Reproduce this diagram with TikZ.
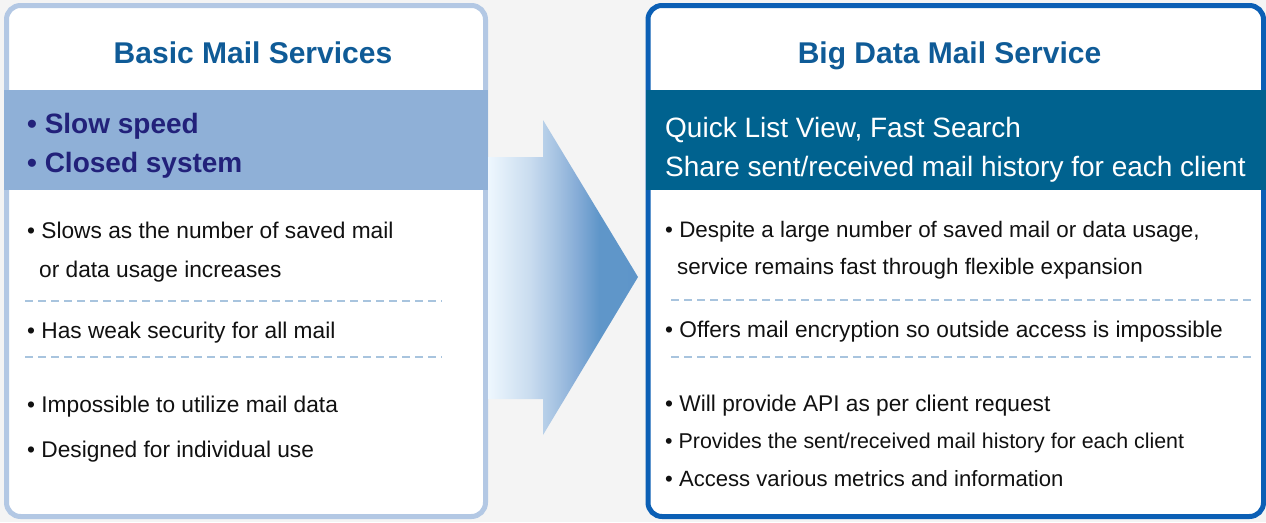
\documentclass[tikz,border=0pt]{standalone}
\usepackage{fontspec}
\setmainfont{Liberation Sans}

\definecolor{pagebg}{HTML}{F4F4F4}
\definecolor{leftrim}{HTML}{B3C8E4}
\definecolor{leftband}{HTML}{8FB0D7}
\definecolor{navytext}{HTML}{22217A}
\definecolor{titleblue}{HTML}{0F5B97}
\definecolor{rightrim}{HTML}{0B5FB5}
\definecolor{rightband}{HTML}{00628F}
\definecolor{dashblue}{HTML}{A8C4DE}
\definecolor{bodytext}{HTML}{111111}
\definecolor{ag0}{HTML}{EEF7FE}
\definecolor{ag1}{HTML}{C9DCEF}
\definecolor{ag2}{HTML}{A9C5E3}
\definecolor{ag3}{HTML}{84ABD6}
\definecolor{ag4}{HTML}{5F96C9}
\definecolor{ag5}{HTML}{5D94C8}

% horizontal fade of the big transition arrow
\pgfdeclarehorizontalshading{arrowgrad}{100bp}{%
  color(0bp)=(ag0); color(25bp)=(ag0); color(39bp)=(ag1); color(47bp)=(ag2);
  color(55bp)=(ag3); color(62bp)=(ag4); color(100bp)=(ag5)}

\tikzset{
  panel/.style={line width=5pt, rounded corners=14pt, fill=white},
  sep/.style={draw=dashblue, line width=1.2pt, dash pattern=on 8pt off 5pt},
  heading/.style={anchor=base, inner sep=0pt, text=titleblue,
    font=\fontsize{30}{36}\selectfont\bfseries},
  keyline/.style={anchor=base west, inner sep=0pt, text=navytext,
    font=\fontsize{28}{34}\selectfont\bfseries},
  bandline/.style={anchor=base west, inner sep=0pt, text=white,
    font=\fontsize{28}{34}\selectfont},
  item/.style={anchor=base west, inner sep=0pt, text=bodytext,
    font=\fontsize{22.7}{27}\selectfont},
  itemsize/.style={font=\fontsize{#1}{27}\selectfont},
}

\begin{document}
\begin{tikzpicture}[x=1pt, y=-1pt]
  \useasboundingbox (0,0) rectangle (1266,522);
  \fill[pagebg] (0,0) rectangle (1266,522);

  % ---- left panel: basic mail services ----
  \draw[panel, draw=leftrim] (6.5,5.5) rectangle (485.5,516.5);
  \fill[leftband] (4,90) rectangle (488,190);
  \node[heading] (ltitle) at (253,63) {Basic Mail Services};
  \node[keyline] (lk1) at (27,133) {• Slow speed};
  \node[keyline] (lk2) at (27,172) {• Closed system};
  \node[item] (l1a) at (27,238) {• Slows as the number of saved mail};
  \node[item] (l1b) at (39,277) {or data usage increases};
  \draw[sep] (25,301) -- (442,301);
  \node[item] (l2) at (27,338) {• Has weak security for all mail};
  \draw[sep] (25,357) -- (442,357);
  \node[item] (l3) at (27,412) {• Impossible to utilize mail data};
  \node[item] (l4) at (27,457) {• Designed for individual use};

  % ---- transition arrow ----
  \shade[shading=arrowgrad]
    (488,157) -- (543,157) -- (543,120) -- (638,277) -- (543,435)
    -- (543,399) -- (488,399) -- cycle;

  % ---- right panel: big data mail service ----
  \draw[panel, draw=rightrim] (648,5.5) rectangle (1263.5,516.5);
  \fill[rightband] (645.5,90) rectangle (1266,190);
  \node[heading] (rtitle) at (949.5,63) {Big Data Mail Service};
  \node[bandline] (rb1) at (665,137) {Quick List View, Fast Search};
  \node[bandline] (rb2) at (665,176) {Share sent/received mail history for each client};
  \node[item, itemsize=22.4] (r1a) at (665,237) {• Despite a large number of saved mail or data usage,};
  \node[item, itemsize=22.4] (r1b) at (677,274) {service remains fast through flexible expansion};
  \draw[sep] (671,300) -- (1253,300);
  \node[item] (r2) at (665,337) {• Offers mail encryption so outside access is impossible};
  \draw[sep] (671,357) -- (1253,357);
  \node[item] (r3) at (665,411) {• Will provide API as per client request};
  \node[item, itemsize=21.4] (r4) at (665,448) {• Provides the sent/received mail history for each client};
  \node[item, itemsize=22.1] (r5) at (665,486) {• Access various metrics and information};
\end{tikzpicture}
\end{document}
